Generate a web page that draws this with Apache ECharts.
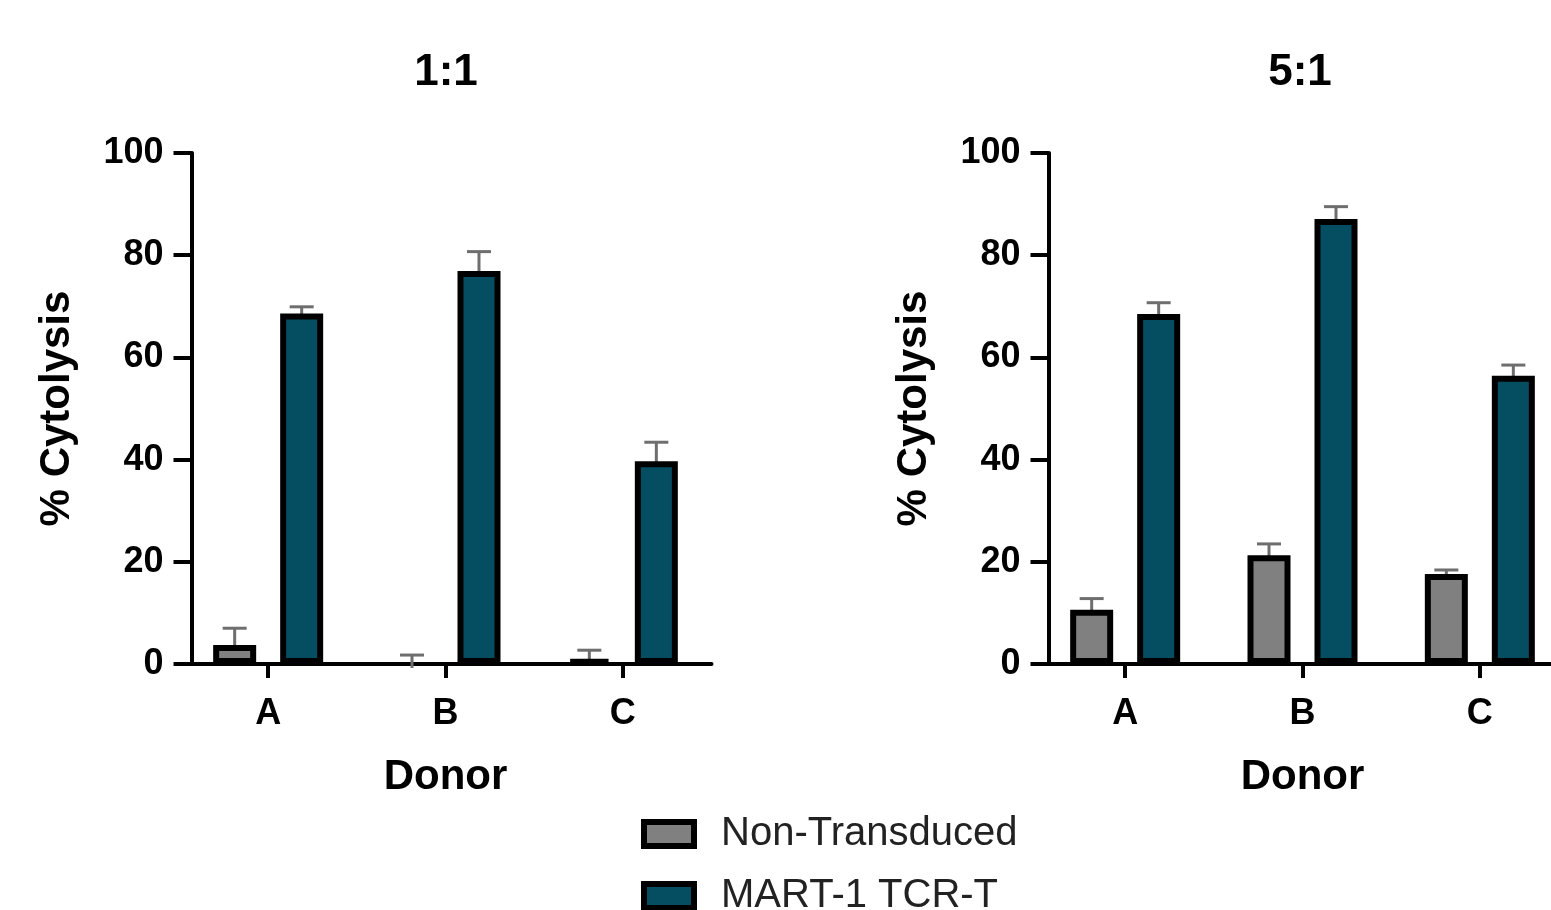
<!DOCTYPE html>
<html>
<head>
<meta charset="utf-8">
<script src="https://cdn.jsdelivr.net/npm/echarts@6/dist/echarts.min.js"></script>
<style>
html,body{margin:0;padding:0;background:#fff;}
#chart{width:1551px;height:910px;}
</style>
</head>
<body>
<div id="chart"></div>
<script>
// ---- data ----
const donors = ['A', 'B', 'C'];
const panelTitles = ['1:1', '5:1'];
const seriesNames = ['Non-Transduced', 'MART-1 TCR-T'];
const yTicks = [0, 20, 40, 60, 80, 100];

const nt_1to1 = [3.7, 0.0, 0.9];
const nt_1to1_err = [3.3, 1.75, 1.8];
const mart_1to1 = [68.6, 76.9, 39.7];
const mart_1to1_err = [1.3, 3.8, 3.7];

const nt_5to1 = [10.6, 21.3, 17.6];
const nt_5to1_err = [2.2, 2.2, 0.8];
const mart_5to1 = [68.5, 87.1, 56.4];
const mart_5to1_err = [2.2, 2.4, 2.1];

// ---- styles ----
const FONT = '"Liberation Sans", Arial, sans-serif';
const GRAY = '#808080';
const TEAL = '#054e62';
const ERRC = '#6e6e6e';
const BAR_W = 43;
const BAR_GAP_PX = 24;
const BORDER = 6;

const grids = [
  {left: 179.5, top: 153, width: 532, height: 511, outerBoundsMode: 'none', containLabel: false},
  {left: 1036.5, top: 153, width: 532, height: 511, outerBoundsMode: 'none', containLabel: false}
];

function errSeries(name, gi, means, errs, sign) {
  const data = means.map((m, i) => [i, m, errs[i]]);
  return {
    type: 'custom',
    name: name,
    xAxisIndex: gi, yAxisIndex: gi,
    z: 1,
    silent: true,
    clip: false,
    encode: {x: 0, y: 1},
    data: data,
    renderItem: function (params, api) {
      const cat = api.value(0), m = api.value(1), e = api.value(2);
      const base = api.coord([cat, m]);
      const top = api.coord([cat, m + e]);
      const off = sign * (BAR_W + BAR_GAP_PX) / 2;
      const x = base[0] + off;
      const st = {stroke: ERRC, lineWidth: 3};
      return {
        type: 'group',
        children: [
          {type: 'line', shape: {x1: x, y1: base[1] + 4, x2: x, y2: top[1]}, style: st},
          {type: 'line', shape: {x1: x - 12, y1: top[1], x2: x + 12, y2: top[1]}, style: st}
        ]
      };
    }
  };
}

function barSeries(name, gi, vals, color) {
  return {
    type: 'bar',
    name: name,
    xAxisIndex: gi, yAxisIndex: gi,
    z: 2,
    barWidth: BAR_W,
    barGap: (BAR_GAP_PX / BAR_W * 100) + '%',
    itemStyle: {color: color, borderColor: '#000', borderWidth: BORDER},
    // a zero mean draws no visible bar
    data: vals.map(v => (v > 0 ? v : null))
  };
}

const xAxes = grids.map((g, i) => ({
  type: 'category',
  gridIndex: i,
  data: donors,
  name: 'Donor',
  nameLocation: 'middle',
  nameGap: 92,
  nameTextStyle: {fontFamily: FONT, fontSize: 42, fontWeight: 'bold', color: '#000'},
  axisLine: {show: true, lineStyle: {color: '#000', width: 4}},
  axisTick: {show: true, alignWithLabel: true, length: 14, lineStyle: {color: '#000', width: 4}},
  axisLabel: {fontFamily: FONT, fontSize: 36, fontWeight: 'bold', color: '#000', margin: 32, interval: 0},
  splitLine: {show: false}
}));

const yAxes = grids.map((g, i) => ({
  type: 'value',
  gridIndex: i,
  min: 0, max: 100, interval: 20,
  offset: -12,
  name: '% Cytolysis',
  nameLocation: 'middle',
  nameGap: 113,
  nameTextStyle: {fontFamily: FONT, fontSize: 42, fontWeight: 'bold', color: '#000'},
  axisLine: {show: true, lineStyle: {color: '#000', width: 4}},
  axisTick: {show: true, length: 18, lineStyle: {color: '#000', width: 4}},
  axisLabel: {fontFamily: FONT, fontSize: 36, fontWeight: 'bold', color: '#000', margin: 28,
    customValues: yTicks},
  splitLine: {show: false}
}));

const legendCommon = {
  orient: 'vertical',
  left: 636,
  itemWidth: 50,
  itemHeight: 24,
  icon: 'rect',
  itemStyle: {borderColor: '#000', borderWidth: 6},
  textStyle: {fontFamily: FONT, fontSize: 40, color: '#222', lineHeight: 44, padding: [0, 0, 0, 22]}
};

const chart = echarts.init(document.getElementById('chart'));
chart.setOption({
  backgroundColor: '#fff',
  animation: false,
  title: [
    {text: panelTitles[0], left: 441, top: 46, textAlign: 'center',
      textStyle: {fontFamily: FONT, fontSize: 44, fontWeight: 'bold', color: '#000'}},
    {text: panelTitles[1], left: 1295, top: 46, textAlign: 'center',
      textStyle: {fontFamily: FONT, fontSize: 44, fontWeight: 'bold', color: '#000'}}
  ],
  legend: [
    Object.assign({}, legendCommon, {data: [seriesNames[0]], top: 807}),
    Object.assign({}, legendCommon, {data: [seriesNames[1]], top: 869})
  ],
  grid: grids,
  xAxis: xAxes,
  yAxis: yAxes,
  series: [
    errSeries('e1', 0, nt_1to1, nt_1to1_err, -1),
    errSeries('e2', 0, mart_1to1, mart_1to1_err, 1),
    errSeries('e3', 1, nt_5to1, nt_5to1_err, -1),
    errSeries('e4', 1, mart_5to1, mart_5to1_err, 1),
    barSeries(seriesNames[0], 0, nt_1to1, GRAY),
    barSeries(seriesNames[1], 0, mart_1to1, TEAL),
    barSeries(seriesNames[0], 1, nt_5to1, GRAY),
    barSeries(seriesNames[1], 1, mart_5to1, TEAL)
  ]
});
</script>
</body>
</html>
